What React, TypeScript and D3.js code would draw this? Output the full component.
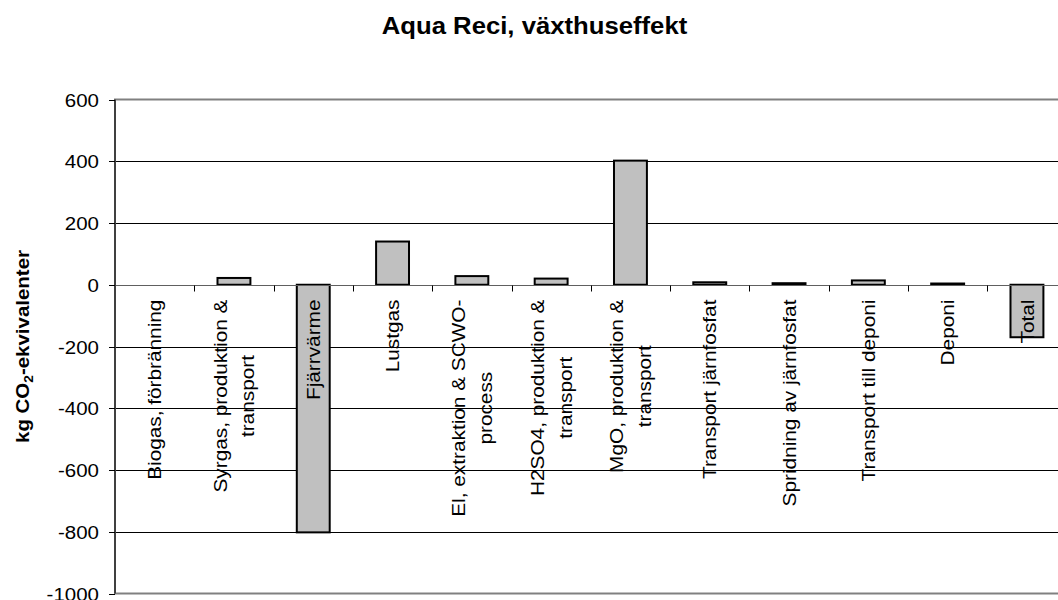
import React, { useEffect, useRef } from "react";
import * as d3 from "d3";

const categories: string[][] = [
  ["Biogas, förbränning"],
  ["Syrgas, produktion &", "transport"],
  ["Fjärrvärme"],
  ["Lustgas"],
  ["El, extraktion & SCWO-", "process"],
  ["H2SO4, produktion &", "transport"],
  ["MgO, produktion &", "transport"],
  ["Transport järnfosfat"],
  ["Spridning av järnfosfat"],
  ["Transport till deponi"],
  ["Deponi"],
  ["Total"],
];
const values: number[] = [0, 22, -802, 140, 28, 20, 402, 8, 5, 14, 4, -170];
const yTicks: number[] = [600, 400, 200, 0, -200, -400, -600, -800, -1000];
const title = "Aqua Reci, växthuseffekt";

const W = 1058;
const H = 600;
const FONT = "'Liberation Sans', Arial, Helvetica, sans-serif";

export default function App() {
  const ref = useRef<SVGSVGElement | null>(null);

  useEffect(() => {
    const svg = d3.select(ref.current);
    svg.selectAll("*").remove();

    const left = 115;
    const right = 1066.6;
    const top = 99.5;
    const bottom = 593.5;

    const keys = categories.map((c) => c.join(" "));
    const x = d3.scaleBand<string>().domain(keys).range([left, right]).padding(0);
    const y = d3.scaleLinear().domain([-1000, 600]).range([bottom, top]);
    const step = x.bandwidth();
    const barW = step * 0.415;

    // Title
    svg
      .append("text")
      .attr("transform", "translate(534.5,34) scale(1.045,1)")
      .attr("text-anchor", "middle")
      .attr("font-family", FONT)
      .attr("font-weight", "bold")
      .attr("font-size", 24.6)
      .text(title);

    // Y axis title
    const yt = svg
      .append("text")
      .attr("transform", `translate(28.5,346.5) rotate(-90) scale(1.1,1)`)
      .attr("text-anchor", "middle")
      .attr("font-family", FONT)
      .attr("font-weight", "bold")
      .attr("font-size", 18.6);
    yt.append("tspan").text("kg CO");
    yt.append("tspan").attr("font-size", 12.5).attr("dy", 4.5).text("2");
    yt.append("tspan").attr("dy", -4.5).text("-ekvivalenter");

    // Gridlines
    svg
      .append("g")
      .selectAll("line")
      .data(yTicks.filter((t) => t !== 600 && t !== -1000 && t !== 0))
      .join("line")
      .attr("x1", left)
      .attr("x2", right)
      .attr("y1", (d) => Math.round(y(d)) + 0.5)
      .attr("y2", (d) => Math.round(y(d)) + 0.5)
      .attr("stroke", "#000")
      .attr("stroke-width", 1);

    // Plot border
    svg
      .append("rect")
      .attr("x", left)
      .attr("y", y(600))
      .attr("width", right - left)
      .attr("height", y(-1000) - y(600))
      .attr("fill", "none")
      .attr("stroke", "#808080")
      .attr("stroke-width", 2);

    // Bars
    svg
      .append("g")
      .selectAll("rect")
      .data(values.map((v, i) => ({ k: keys[i], v })))
      .join("rect")
      .filter((d) => d.v !== 0)
      .attr("x", (d) => (x(d.k) as number) + step / 2 - barW / 2)
      .attr("y", (d) => Math.min(y(d.v), y(0)))
      .attr("width", barW)
      .attr("height", (d) => Math.abs(y(d.v) - y(0)))
      .attr("fill", "#C0C0C0")
      .attr("stroke", "#000")
      .attr("stroke-width", 2);

    // Zero line
    const y0 = Math.round(y(0)) + 0.5;
    svg
      .append("line")
      .attr("x1", left)
      .attr("x2", right)
      .attr("y1", y0)
      .attr("y2", y0)
      .attr("stroke", "#606060")
      .attr("stroke-width", 1);

    // Category boundary ticks
    svg
      .append("g")
      .selectAll("line")
      .data(keys.slice(1))
      .join("line")
      .attr("x1", (d) => Math.round(x(d) as number) + 0.5)
      .attr("x2", (d) => Math.round(x(d) as number) + 0.5)
      .attr("y1", y0)
      .attr("y2", y0 + 6)
      .attr("stroke", "#000")
      .attr("stroke-width", 1);

    // Y axis line
    svg
      .append("line")
      .attr("x1", left)
      .attr("x2", left)
      .attr("y1", y(600))
      .attr("y2", y(-1000))
      .attr("stroke", "#404040")
      .attr("stroke-width", 2);

    // Y ticks + labels
    const yg = svg.append("g");
    yTicks.forEach((t) => {
      const yy = Math.round(y(t)) + 0.5;
      yg.append("line")
        .attr("x1", left - 6)
        .attr("x2", left)
        .attr("y1", yy)
        .attr("y2", yy)
        .attr("stroke", "#000")
        .attr("stroke-width", 1);
      yg.append("text")
        .attr("transform", `translate(99,${yy}) scale(1.09,1)`)
        .attr("dy", "0.36em")
        .attr("text-anchor", "end")
        .attr("font-family", FONT)
        .attr("font-size", 18.8)
        .text(String(t));
    });

    // Category labels
    const lg = svg.append("g");
    const fs = 19;
    const sx = 1.095;
    const lineH = 27.5;
    const labelTop = 299.5;
    categories.forEach((lines, i) => {
      const cx = (x(keys[i]) as number) + step / 2;
      const g = lg.append("g");
      const texts = lines.map((ln) =>
        g
          .append("text")
          .attr("font-family", FONT)
          .attr("font-size", fs)
          .attr("text-anchor", "middle")
          .attr("dy", "0.35em")
          .text(ln)
      );
      const maxLen =
        (d3.max(texts, (t) => (t.node() as SVGTextElement).getComputedTextLength()) || 0) * sx;
      const cy = labelTop + maxLen / 2;
      texts.forEach((t, j) => {
        const off = (j - (lines.length - 1) / 2) * lineH;
        t.attr("transform", `translate(${cx + off},${cy}) rotate(-90) scale(${sx},1)`);
      });
    });
  }, []);

  return (
    <svg
      ref={ref}
      width={W}
      height={H}
      style={{ position: "absolute", left: 0, top: 0, background: "#fff" }}
    />
  );
}
